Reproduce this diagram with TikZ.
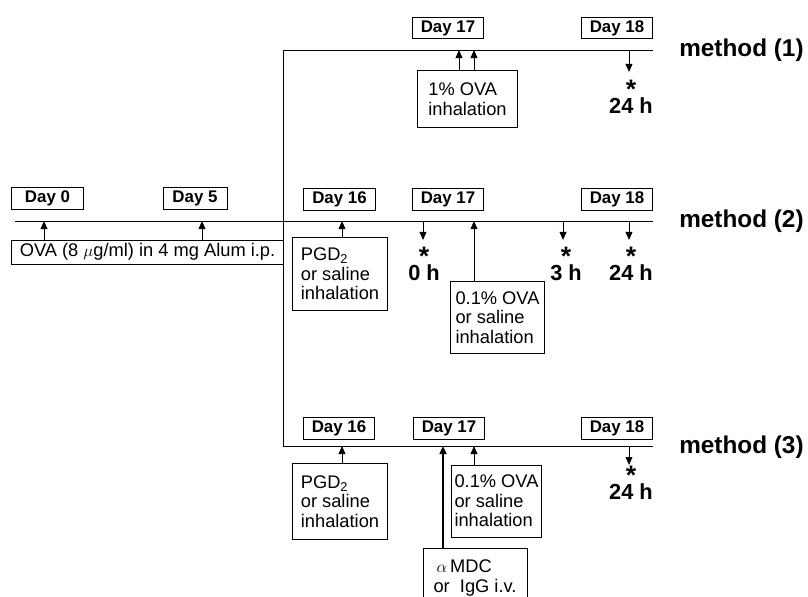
\documentclass[tikz,border=0pt]{standalone}
\usepackage{fontspec}
\setmainfont{Liberation Sans}
\usetikzlibrary{arrows.meta,positioning}
\newcommand{\pgdtwo}{PGD\textsubscript{2}}
\newcommand{\starhour}[1]{{\fontsize{19}{19}\selectfont *}\\[-6pt]#1}

\begin{document}
\begin{tikzpicture}[
  x=0.025cm, y=-0.025cm,
  timeline/.style={line width=0.7pt},
  daybox/.style={draw, line width=0.7pt, font=\bfseries\fontsize{12}{14}\selectfont, minimum width=1.78cm, minimum height=0.54cm, inner sep=0pt},
  notebox/.style={draw, line width=0.7pt, font=\fontsize{13}{14}\selectfont, align=left, inner sep=0pt},
  hourlbl/.style={font=\bfseries\fontsize{15.5}{17}\selectfont, align=center, inner sep=0pt, anchor=south},
  methodlbl/.style={font=\bfseries\fontsize{17.3}{19}\selectfont, anchor=west, inner sep=0pt},
  uparrow/.style={-{Triangle[length=2mm,width=1.7mm]}, line width=0.7pt},
  thickarrow/.style={-{Triangle[length=2mm,width=1.7mm]}, line width=1.4pt},
  downarrow/.style={-{Triangle[length=2mm,width=1.7mm]}, line width=0.7pt}
]
\clip (0,0) rectangle (808,597);

% timelines
\coordinate (m1L) at (283,50);
\coordinate (m1R) at (653,50);
\coordinate (m2L) at (15,221);
\coordinate (m2R) at (653,221);
\coordinate (m3L) at (283,446);
\coordinate (m3R) at (653,446);
\draw[timeline] (m1R) -- (m1L) -- (m3L) -- (m3R);
\draw[timeline] (m2L) -- (m2R);

% method (1)
\node[daybox] (m1d17) at (448,28) {Day 17};
\node[daybox] (m1d18) at (617,28) {Day 18};
\node[notebox, minimum width=2.48cm, minimum height=1.4cm] (m1ova) at (467.5,99) {1\% OVA\\inhalation};
\coordinate (m1a) at (459,50);
\coordinate (m1b) at (474,50);
\coordinate (m1c) at (629,50);
\coordinate (m1e) at (629,72);
\draw[uparrow] (m1ova.north -| m1a) -- (m1a);
\draw[uparrow] (m1ova.north -| m1b) -- (m1b);
\draw[downarrow] (m1c) -- (m1e);
\node[hourlbl] (m1h) at (631,114) {\starhour{24 h}};
\node[methodlbl] (m1lbl) at (679,50) {method (1)};

% sensitisation and method (2)
\node[daybox, minimum width=1.78cm] (d0) at (47.5,198.5) {Day 0};
\node[daybox, minimum width=1.6cm] (d5) at (195,198.5) {Day 5};
\node[notebox, minimum width=6.78cm, minimum height=0.6cm] (ovaip) at (147.5,252) {OVA (8 $\mu$g/ml) in 4 mg Alum i.p.};
\coordinate (s0) at (44,221);
\coordinate (s5) at (202,221);
\draw[uparrow] (ovaip.north -| s0) -- (s0);
\draw[uparrow] (ovaip.north -| s5) -- (s5);

\node[daybox] (m2d16) at (339.5,199.5) {Day 16};
\node[daybox] (m2d17) at (448,199.5) {Day 17};
\node[daybox] (m2d18) at (617,199.5) {Day 18};
\node[notebox, minimum width=2.35cm, minimum height=1.8cm] (m2pgd) at (340,274) {\pgdtwo\\or saline\\inhalation};
\node[notebox, minimum width=2.33cm, minimum height=1.78cm] (m2ova) at (497.5,317.5) {0.1\% OVA\\or saline\\inhalation};
\coordinate (m2a) at (342,221);
\coordinate (m2b) at (474,221);
\draw[uparrow] (m2pgd.north -| m2a) -- (m2a);
\draw[uparrow] (m2ova.north -| m2b) -- (m2b);
\coordinate (m2c) at (423,221);
\coordinate (m2ce) at (423,240);
\coordinate (m2d) at (563,221);
\coordinate (m2de) at (563,240);
\coordinate (m2f) at (629,221);
\coordinate (m2fe) at (629,240);
\draw[downarrow] (m2c) -- (m2ce);
\draw[downarrow] (m2d) -- (m2de);
\draw[downarrow] (m2f) -- (m2fe);
\node[hourlbl] (m2h0) at (424,281) {\starhour{0 h}};
\node[hourlbl] (m2h3) at (566,281) {\starhour{3 h}};
\node[hourlbl] (m2h24) at (631,281) {\starhour{24 h}};
\node[methodlbl] (m2lbl) at (679,221) {method (2)};

% method (3)
\node[daybox] (m3d16) at (339,428.5) {Day 16};
\node[daybox] (m3d17) at (449,428.5) {Day 17};
\node[daybox] (m3d18) at (617,428.5) {Day 18};
\node[notebox, minimum width=2.35cm, minimum height=1.88cm] (m3pgd) at (340,501.5) {\pgdtwo\\or saline\\inhalation};
\node[notebox, minimum width=2.23cm, minimum height=1.8cm] (m3ova) at (496.5,501) {0.1\% OVA\\or saline\\inhalation};
\node[notebox, minimum width=2.6cm, minimum height=1.5cm] (m3mdc) at (475,578) {\,$\alpha$\,MDC\\or\ \ IgG i.v.};
\coordinate (m3a) at (342,446);
\coordinate (m3b) at (443,446);
\coordinate (m3c) at (474,446);
\draw[uparrow] (m3pgd.north -| m3a) -- (m3a);
\draw[thickarrow] (m3mdc.north -| m3b) -- (m3b);
\draw[uparrow] (m3ova.north -| m3c) -- (m3c);
\coordinate (m3d) at (629,446);
\coordinate (m3de) at (629,465);
\draw[downarrow] (m3d) -- (m3de);
\node[hourlbl] (m3h) at (631,500) {\starhour{24 h}};
\node[methodlbl] (m3lbl) at (679,447) {method (3)};
\end{tikzpicture}
\end{document}
